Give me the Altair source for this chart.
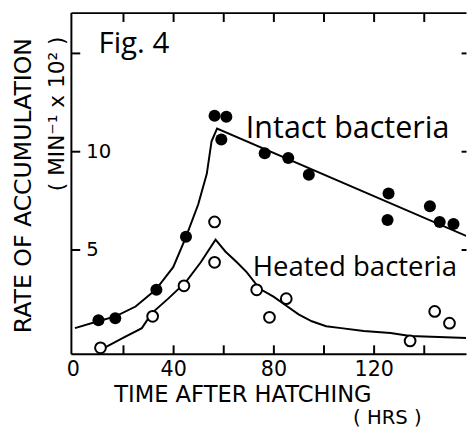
import altair as alt
import pandas as pd

# Observed points (time after hatching in hrs, rate of accumulation min^-1 x 10^2)
intact_t = [10.2, 16.9, 33.3, 45.1, 56.5, 61.2, 59.2, 76.5, 85.9, 94.1, 125.9, 125.5, 142.4, 146.3, 151.8]
intact_r = [1.4, 1.5, 2.95, 5.65, 11.8, 11.75, 10.6, 9.9, 9.65, 8.8, 7.85, 6.5, 7.2, 6.4, 6.3]
heated_t = [11.0, 31.8, 44.3, 56.5, 56.5, 73.3, 78.4, 85.1, 134.5, 144.3, 150.2]
heated_r = [0.0, 1.6, 3.15, 6.4, 4.35, 2.95, 1.55, 2.5, 0.35, 1.85, 1.25]

# Hand-drawn fitted curves
intact_curve_t = [0.8, 10, 17, 25, 33, 40, 45, 50, 53.4, 55.3, 57.5, 157.6]
intact_curve_r = [1.0, 1.35, 1.6, 2.1, 2.95, 4.1, 5.6, 7.3, 8.85, 10.5, 11.15, 5.65]
heated_curve_t = [12.5, 20, 27.5, 31.4, 38, 45.1, 51, 56.9, 60.8, 65.4, 69.3, 74.5, 80, 85, 90, 95.3, 101, 107, 116, 126.7, 134.5, 157.6]
heated_curve_r = [0.0, 0.5, 1.0, 1.75, 2.5, 3.35, 4.35, 5.5, 4.9, 4.35, 3.85, 3.0, 2.6, 2.15, 1.7, 1.35, 1.1, 1.0, 0.85, 0.75, 0.6, 0.5]

x_minor_ticks = [20, 40, 60, 80, 100, 120, 140]
x_labels = [0, 40, 80, 120]
y_ticks = [5, 10, 15]

W, H = 402, 347
FONT = "DejaVu Sans"
HAND = "Open Sans"

xs = alt.Scale(domain=[-0.8, 156.8], nice=False, zero=False)
ys = alt.Scale(domain=[-0.3, 17.05], nice=False, zero=False)

df_i = pd.DataFrame({"t": intact_t, "r": intact_r})
df_h = pd.DataFrame({"t": heated_t, "r": heated_r})
df_ic = pd.DataFrame({"t": intact_curve_t, "r": intact_curve_r})
df_hc = pd.DataFrame({"t": heated_curve_t, "r": heated_curve_r})

# Layer with bottom labels and left axis (inward ticks, labels inside)
pts_i = alt.Chart(df_i).mark_point(filled=True, color="black", size=150, opacity=1).encode(
    x=alt.X("t:Q", scale=xs, axis=alt.Axis(
        orient="bottom", values=x_labels, ticks=False, tickSize=0, domain=False,
        labelFontSize=21, labelPadding=5, labelFont=FONT, labelColor="black", title=None, grid=False)),
    y=alt.Y("r:Q", scale=ys, axis=alt.Axis(
        orient="right", offset=-W, values=y_ticks, tickSize=9, tickWidth=2, tickColor="black",
        domain=True, domainWidth=2, domainColor="black",
        labelExpr="datum.value == 15 ? '' : datum.label",
        labelFontSize=20, labelPadding=6, labelFont=FONT, labelColor="black", title=None, grid=False)),
)

# Bottom frame line with ticks pointing up, right-side ticks pointing inward
pts_h = alt.Chart(df_h).mark_point(filled=True, fill="white", stroke="black", strokeWidth=2, size=120, opacity=1).encode(
    x=alt.X("t:Q", scale=xs, axis=alt.Axis(
        orient="top", offset=-H, values=x_minor_ticks, tickSize=9, tickWidth=2, tickColor="black",
        labels=False, domain=True, domainWidth=2, domainColor="black", title=None, grid=False)),
    y=alt.Y("r:Q", scale=ys, axis=alt.Axis(
        orient="left", offset=-W, values=y_ticks, tickSize=5, tickWidth=2, tickColor="black",
        labels=False, domain=False, title=None, grid=False)),
)

# Top frame line with ticks pointing down
line_i = alt.Chart(df_ic).mark_line(color="black", strokeWidth=2, clip=True).encode(
    x=alt.X("t:Q", scale=xs, axis=alt.Axis(
        orient="bottom", offset=-H, values=x_minor_ticks, tickSize=9, tickWidth=2, tickColor="black",
        labels=False, domain=True, domainWidth=2, domainColor="black", title=None, grid=False)),
    y=alt.Y("r:Q", scale=ys, axis=None),
)

line_h = alt.Chart(df_hc).mark_line(color="black", strokeWidth=2, clip=True).encode(
    x=alt.X("t:Q", scale=xs, axis=None),
    y=alt.Y("r:Q", scale=ys, axis=None),
)

def txt(s, x, y, size, font=FONT, align="left", baseline="alphabetic", angle=0):
    kw = dict(text=s, fontSize=size, font=font, align=align, baseline=baseline, color="black")
    if angle:
        kw["angle"] = angle
    return alt.Chart(pd.DataFrame({"a": [0]})).mark_text(**kw).encode(
        x=alt.value(x), y=alt.value(y))

texts = [
    txt("Fig. 4", 28, 41, 30, font=HAND),
    txt("Intact bacteria", 178, 128, 31, font=HAND),
    txt("Heated bacteria", 185, 268, 28, font=HAND),
    txt("TIME  AFTER  HATCHING", 175, 396, 23, align="center"),
    txt("( HRS )", 322, 419, 20, align="center"),
    txt("RATE  OF  ACCUMULATION", -48, 176, 24, align="center", baseline="middle", angle=270),
    txt("(  MIN⁻¹  x  10²  )", -14, 103, 22, align="center", baseline="middle", angle=270),
]

chart = alt.layer(line_i, line_h, pts_i, pts_h, *texts).resolve_axis(
    x="independent", y="independent"
).properties(
    width=W, height=H,
    autosize=alt.AutoSizeParams(type="none"),
    padding={"left": 64, "top": 1, "right": 1, "bottom": 78},
    background="white",
).configure_view(stroke=None).configure_axis(grid=False)

chart.save("out.html", embed_options={"renderer": "svg", "actions": False})
